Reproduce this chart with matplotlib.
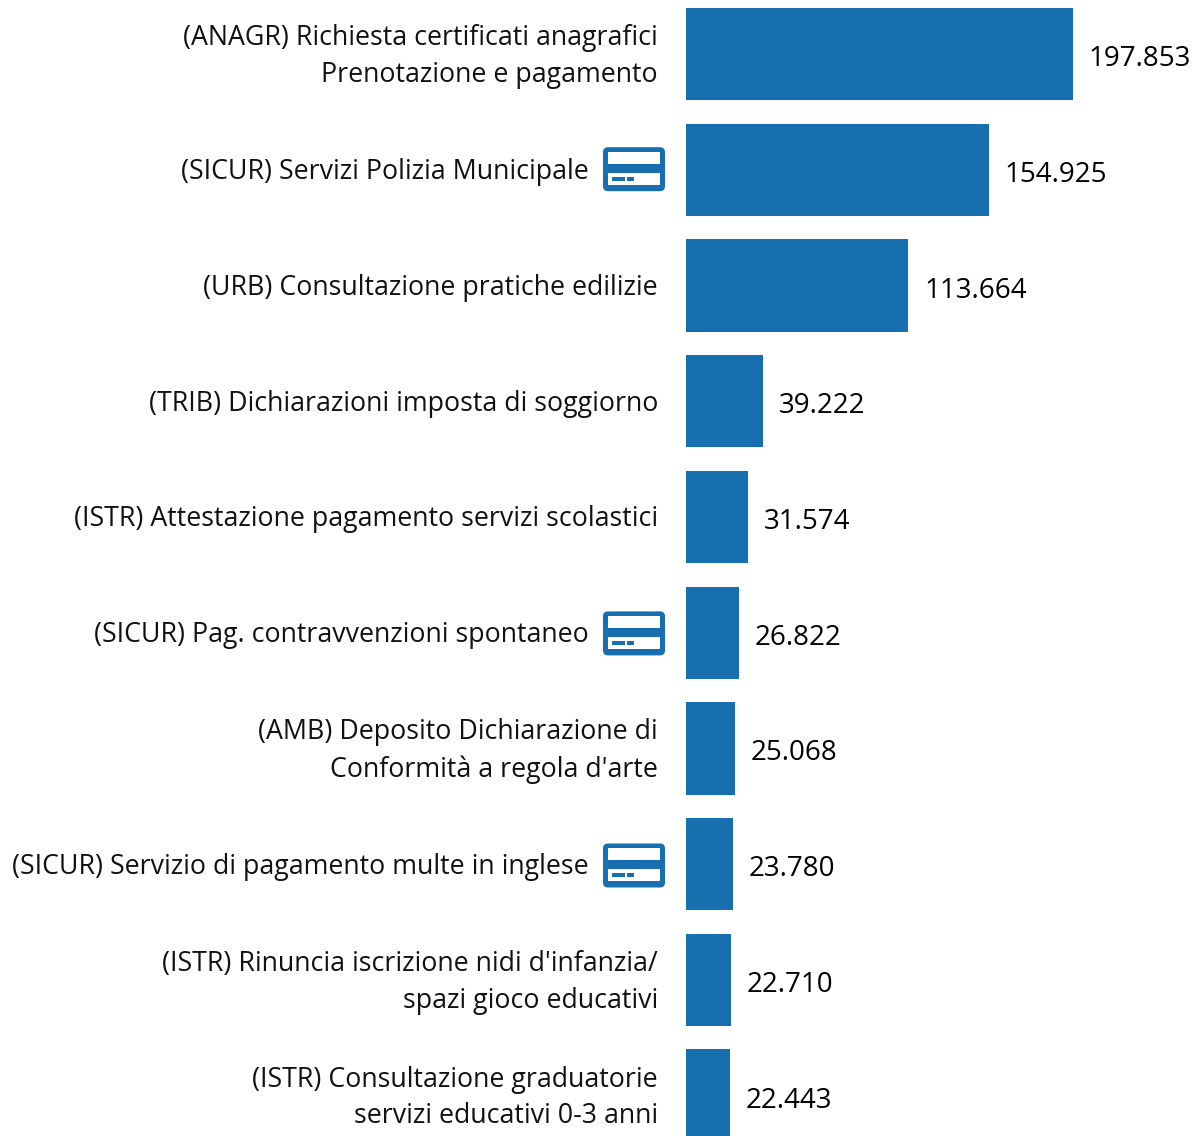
import matplotlib
matplotlib.use('Agg')
import matplotlib.pyplot as plt
from matplotlib.patches import FancyBboxPatch, Rectangle

labels = ['(ANAGR) Richiesta certificati anagrafici\nPrenotazione e pagamento',
          '(SICUR) Servizi Polizia Municipale',
          '(URB) Consultazione pratiche edilizie',
          '(TRIB) Dichiarazioni imposta di soggiorno',
          '(ISTR) Attestazione pagamento servizi scolastici',
          '(SICUR) Pag. contravvenzioni spontaneo',
          "(AMB) Deposito Dichiarazione di\nConformità a regola d'arte",
          '(SICUR) Servizio di pagamento multe in inglese',
          "(ISTR) Rinuncia iscrizione nidi d'infanzia/\nspazi gioco educativi",
          '(ISTR) Consultazione graduatorie\nservizi educativi 0-3 anni']
values = [197853, 154925, 113664, 39222, 31574, 26822, 25068, 23780, 22710, 22443]
value_labels = ['197.853', '154.925', '113.664', '39.222', '31.574', '26.822', '25.068', '23.780', '22.710', '22.443']
has_card = [False, True, False, False, False, True, False, True, False, False]

blue = '#186FAF'
W, H = 1198, 1136
plt.rcParams['font.family'] = ['Open Sans', 'DejaVu Sans']

fig = plt.figure(figsize=(W / 100, H / 100), dpi=100)
left = 686.4
ax = fig.add_axes([left / W, 0, (W - left) / W, 1])
# x scale: 197853 is 386.6 px wide
x_px = 197853 / 386.6
y_px = 1 / 115.7
ax.set_xlim(0, (W - left) * x_px)
# y scale: one category is 115.7 px, first bar centre at y=54.2
ax.set_ylim((1136 - 54.2) * y_px, -54.2 * y_px)
ax.barh(range(len(values)), values, height=0.797, color=blue)
ax.axis('off')

for i, v in enumerate(values):
    ax.text(v + 15.5 * x_px, i + 5 * y_px, value_labels[i], fontsize=20, va='center', ha='left', color='black', clip_on=False)
    right = -28.5 if not has_card[i] else -97.5
    ax.text(right * x_px, i + 2.5 * y_px, labels[i], fontsize=19.28, va='center', ha='right', color='#111111',
            linespacing=1.42, clip_on=False)
    if has_card[i]:
        # card icon between label and bar, drifts down slightly in the reference
        x0, y0 = -83.4 * x_px, i + (-22.7 + (i - 1) * 0.35) * y_px
        ax.add_patch(FancyBboxPatch((x0, y0), 62 * x_px, 44 * y_px, boxstyle='round,pad=0,rounding_size=%f' % (5 * x_px),
                                    mutation_aspect=y_px / x_px, facecolor=blue, edgecolor='none', clip_on=False))
        ax.add_patch(Rectangle((x0 + 5 * x_px, y0 + 5 * y_px), 52 * x_px, 12 * y_px, facecolor='white', edgecolor='none', clip_on=False))
        ax.add_patch(Rectangle((x0 + 5 * x_px, y0 + 26 * y_px), 52 * x_px, 12 * y_px, facecolor='white', edgecolor='none', clip_on=False))
        ax.add_patch(Rectangle((x0 + 9 * x_px, y0 + 30 * y_px), 13 * x_px, 4 * y_px, facecolor=blue, edgecolor='none', clip_on=False))
        ax.add_patch(Rectangle((x0 + 24 * x_px, y0 + 30 * y_px), 7 * x_px, 4 * y_px, facecolor=blue, edgecolor='none', clip_on=False))

fig.savefig('out.png', dpi=100)
